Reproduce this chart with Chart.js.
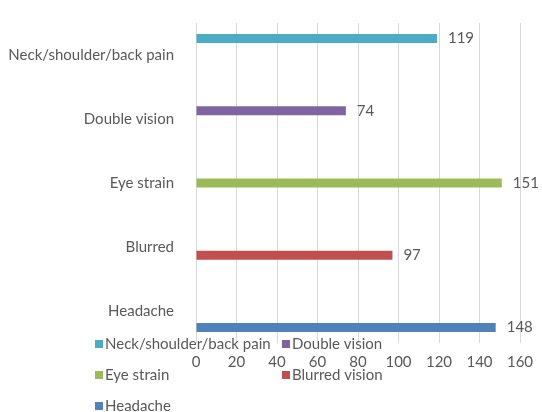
<!DOCTYPE html>
<html lang="en">
  <head>
    <meta charset="UTF-8" />
    <title>Symptoms</title>
    <script src="https://cdn.jsdelivr.net/npm/chart.js"></script>
    <style>
      body { margin: 0; background: #fff; }
      #wrap { width: 542px; height: 412px; }
    </style>
  </head>
  <body>
    <div id="wrap"><canvas id="myChart" width="542" height="412"></canvas></div>

    <script>
      // categories top to bottom
      const categories = ["Neck/shoulder/back pain", "Double vision", "Eye strain", "Blurred", "Headache"];
      const seriesNames = ["Neck/shoulder/back pain", "Double vision", "Eye strain", "Blurred vision", "Headache"];
      const seriesValues = [119, 74, 151, 97, 148];
      const seriesColors = ["#4bacc6", "#8064a2", "#9bbb59", "#c0504d", "#4f81bd"];
      const xTicks = [0, 20, 40, 60, 80, 100, 120, 140, 160];

      const textColor = "#595959";
      const font = { family: "Lato, 'Open Sans', sans-serif", size: 15 };

      // each series only has a value in its own category
      const datasets = seriesNames.map((name, i) => ({
        label: name,
        data: categories.map((c, j) => (j === i ? seriesValues[i] : null)),
        backgroundColor: seriesColors[i],
        categoryPercentage: 0.64,
        barPercentage: 1.1,
      }));

      // value labels right of each bar
      const valueLabels = {
        id: "valueLabels",
        afterDatasetsDraw(chart) {
          const ctx = chart.ctx;
          ctx.save();
          ctx.font = font.size + "px " + font.family;
          ctx.fillStyle = textColor;
          ctx.textBaseline = "middle";
          chart.data.datasets.forEach((ds, i) => {
            chart.getDatasetMeta(i).data.forEach((bar, j) => {
              if (ds.data[j] == null) return;
              ctx.fillText(ds.data[j], bar.x + 11, bar.y);
            });
          });
          ctx.restore();
        },
      };

      // excel-style legend: two columns, rows below the plot
      const gridLegend = {
        id: "gridLegend",
        afterDraw(chart) {
          const ctx = chart.ctx;
          const colX = [95, 282];
          const top = chart.chartArea.bottom + 1;
          const rowGap = 31;
          ctx.save();
          ctx.font = font.size + "px " + font.family;
          ctx.textBaseline = "middle";
          chart.data.datasets.forEach((ds, i) => {
            const row = Math.floor(i / 2);
            const x = colX[i % 2];
            const y = top + row * rowGap;
            ctx.fillStyle = ds.backgroundColor;
            ctx.fillRect(x, y - 4, 8, 8);
            ctx.fillStyle = textColor;
            ctx.fillText(ds.label, x + 10, y);
          });
          ctx.restore();
        },
      };

      const ctx = document.getElementById("myChart").getContext("2d");
      new Chart(ctx, {
        type: "bar",
        data: { labels: categories, datasets: datasets },
        plugins: [valueLabels, gridLegend],
        options: {
          indexAxis: "y",
          responsive: false,
          animation: false,
          layout: { padding: { top: 23, right: 22, bottom: 44, left: 0 } },
          plugins: {
            legend: { display: false },
            tooltip: { enabled: false },
          },
          scales: {
            x: {
              min: 0,
              max: 160,
              afterBuildTicks: (scale) => {
                scale.ticks = xTicks.map((v) => ({ value: v }));
              },
              afterFit: (scale) => {
                scale.height = 25;
                scale.paddingLeft = 0;
                scale.paddingRight = 0;
              },
              grid: { color: "#d9d9d9", drawTicks: false, lineWidth: 1 },
              border: { display: false },
              ticks: { color: textColor, font: font, padding: 10, maxRotation: 0 },
            },
            y: {
              afterFit: (scale) => {
                scale.width = 196;
                scale.paddingTop = 0;
                scale.paddingBottom = 0;
              },
              grid: { display: false, drawTicks: false },
              border: { display: false },
              ticks: { color: textColor, font: font, padding: 22 },
            },
          },
        },
      });
    </script>
  </body>
</html>
